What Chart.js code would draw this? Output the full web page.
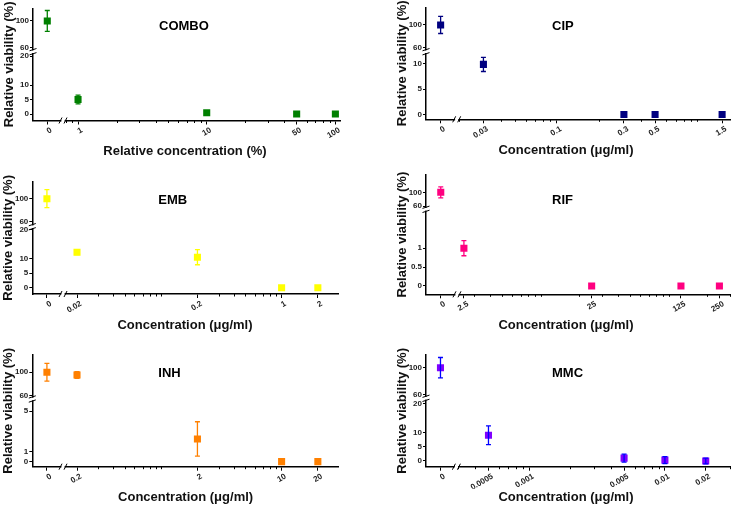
<!DOCTYPE html>
<html>
<head>
<meta charset="utf-8">
<script src="https://cdn.jsdelivr.net/npm/chart.js@4"></script>
<style>
  html, body { margin: 0; padding: 0; background: #fff; }
  body { position: relative; width: 735px; height: 506px; overflow: hidden; }
  canvas { position: absolute; }
</style>
</head>
<body>
<script>
// ── Data ───────────────────────────────────────────────────
// concentration 0 sits on its own short axis segment left of the break
const comboConc = [0, 1, 10, 50, 100];
const comboViab = [100, 5.0, 0.45, 0, 0];
const comboErr  = [15.7, 1.5, 0, 0, 0];
const comboXTicks = [1, 10, 50, 100];
const comboYTicks = [0, 5, 10, 20];

const cipConc = [0, 0.03, 0.3, 0.5, 1.5];
const cipViab = [100, 9.9, 0, 0, 0];
const cipErr  = [15, 1.4, 0, 0, 0];
const cipXTicks = [0.03, 0.1, 0.3, 0.5, 1.5];
const cipYTicks = [0, 5, 10];

const embConc = [0, 0.02, 0.2, 1, 2];
const embViab = [100, 12.2, 10.5, 0, 0];
const embErr  = [15.5, 0.8, 2.6, 0, 0];
const embXTicks = [0.02, 0.2, 1, 2];
const embYTicks = [0, 5, 10, 20];

const rifConc = [0, 2.5, 25, 125, 250];
const rifViab = [100, 1.0, 0, 0, 0];
const rifErr  = [16, 0.2, 0, 0, 0];
const rifXTicks = [2.5, 25, 125, 250];
const rifYTicks = [0, 0.5, 1];

const inhConc = [0, 0.2, 2, 10, 20];
const inhViab = [100, 95.3, 2.25, 0, 0];
const inhErr  = [15.3, 6, 1.7, 0, 0];
const inhXTicks = [0.2, 2, 10, 20];
const inhYTicks = [0, 1, 5];

const mmcConc = [0, 0.0005, 0.005, 0.01, 0.02];
const mmcViab = [100, 9.0, 1.0, 0.3, 0];
const mmcErr  = [15, 3.3, 1.4, 1.2, 1.0];
const mmcXTicks = [0.0005, 0.001, 0.005, 0.01, 0.02];
const mmcYTicks = [0, 5, 10, 20];

const yHighTicks = [60, 100];

// ── Layout of the six panels (page pixels) ─────────────────
const FONT = '"Liberation Sans", Arial, sans-serif';
const Y_W = 30;   // reserved width of the y axis
const X_H = 22;   // reserved height of the x axis

const panels = [
  { name: 'COMBO', xTitle: 'Relative concentration (%)', color: '#008000', errColor: '#008000',
    conc: comboConc, viab: comboViab, err: comboErr, xTicks: comboXTicks, yTicks: comboYTicks,
    box: { left: 0, top: 0, width: 367, height: 165 },
    plot: { left: 33, top: 8.3, right: 340, bottom: 120.5, xBreak: 63, yBreak: 51.7 },
    xLog: [0.764, 108.6], yLow: [-2.24, 21.5], yHigh: [54, 119], titleY: 26.7, xTitleX: 185 },
  { name: 'CIP', xTitle: 'Concentration (\u03bcg/ml)', color: '#000080', errColor: '#000080',
    conc: cipConc, viab: cipViab, err: cipErr, xTicks: cipXTicks, yTicks: cipYTicks,
    box: { left: 367, top: 0, width: 368, height: 165 },
    plot: { left: 426, top: 7.3, right: 733, bottom: 119.3, xBreak: 457, yBreak: 51.7 },
    xLog: [0.01936, 1.707], yLow: [-0.93, 12.4], yHigh: [53, 131], titleY: 26.7, xTitleX: 566 },
  { name: 'EMB', xTitle: 'Concentration (\u03bcg/ml)', color: '#ffff00', errColor: '#ffff00',
    conc: embConc, viab: embViab, err: embErr, xTicks: embXTicks, yTicks: embYTicks,
    box: { left: 0, top: 165, width: 367, height: 171 },
    plot: { left: 32.3, top: 181.7, right: 338, bottom: 294, xBreak: 63, yBreak: 226.7 },
    xLog: [0.0153, 2.94], yLow: [-2.17, 21.0], yHigh: [51.9, 129.2], titleY: 200.7, xTitleX: 185 },
  { name: 'RIF', xTitle: 'Concentration (\u03bcg/ml)', color: '#ff0080', errColor: '#ff0080',
    conc: rifConc, viab: rifViab, err: rifErr, xTicks: rifXTicks, yTicks: rifYTicks,
    box: { left: 367, top: 165, width: 368, height: 171 },
    plot: { left: 426, top: 175, right: 733, bottom: 294.3, xBreak: 457.3, yBreak: 209.3 },
    xLog: [2.207, 302.6], yLow: [-0.22, 2.03], yHigh: [50.4, 150.5], titleY: 200.7, xTitleX: 566 },
  { name: 'INH', xTitle: 'Concentration (\u03bcg/ml)', color: '#ff8000', errColor: '#ff8000',
    conc: inhConc, viab: inhViab, err: inhErr, xTicks: inhXTicks, yTicks: inhYTicks,
    box: { left: 0, top: 336, width: 367, height: 170 },
    plot: { left: 32.3, top: 355, right: 338, bottom: 466.7, xBreak: 63, yBreak: 399 },
    xLog: [0.153, 29.4], yLow: [-0.5, 6.2], yHigh: [53.6, 130], titleY: 373.3, xTitleX: 185.6 },
  { name: 'MMC', xTitle: 'Concentration (\u03bcg/ml)', color: '#8000ff', errColor: '#0000ff',
    conc: mmcConc, viab: mmcViab, err: mmcErr, xTicks: mmcXTicks, yTicks: mmcYTicks,
    box: { left: 367, top: 336, width: 368, height: 170 },
    plot: { left: 426, top: 355, right: 733, bottom: 466.7, xBreak: 456.7, yBreak: 398.3 },
    xLog: [0.00029, 0.0302], yLow: [-2.0, 21.95], yHigh: [55, 118.7], titleY: 373.3, xTitleX: 566 },
];

// ── Helpers ────────────────────────────────────────────────
function buildDatasets(p) {
  const sets = {};
  p.conc.forEach((c, i) => {
    const xa = c === 0 ? 'x0' : 'xl';
    const ya = p.viab[i] >= 50 ? 'yT' : 'yB';
    const key = xa + ya;
    if (!sets[key]) {
      sets[key] = {
        data: [], xAxisID: xa, yAxisID: ya,
        pointStyle: 'rect', pointRadius: 5, pointHoverRadius: 5,
        backgroundColor: p.color, borderColor: p.color, borderWidth: 0,
        showLine: false,
      };
    }
    sets[key].data.push({ x: c, y: p.viab[i], e: p.err[i] });
  });
  return Object.values(sets);
}

const tickFont = { family: FONT, size: 8, weight: 'bold' };

function yAxis(range, ticks, weight) {
  return {
    type: 'linear', axis: 'y', position: 'left', stack: 'y', stackWeight: weight,
    min: range[0], max: range[1], bounds: 'data',
    afterBuildTicks: s => { s.ticks = ticks.map(v => ({ value: v })); },
    afterFit: s => { s.width = Y_W; s.paddingTop = 0; s.paddingBottom = 0; },
    grid: { drawOnChartArea: false, tickLength: 3, tickColor: '#000', tickWidth: 1 },
    border: { color: '#000', width: 1.5 },
    ticks: { font: tickFont, color: '#222', padding: 1, autoSkip: false, callback: v => String(v) },
  };
}

function xAxisCommon(weight) {
  return {
    axis: 'x', position: 'bottom', stack: 'x', stackWeight: weight, bounds: 'data',
    afterFit: s => { s.height = X_H; s.paddingLeft = 0; s.paddingRight = 0; },
    grid: { drawOnChartArea: false, tickLength: 4, tickColor: '#000', tickWidth: 1 },
    border: { color: '#000', width: 1.5 },
    ticks: { font: tickFont, color: '#222', padding: 1, autoSkip: false,
             minRotation: 30, maxRotation: 30, labelOffset: 4, callback: v => String(v) },
  };
}

// ── Plugins: error bars, minor ticks, axis breaks, titles ──
function makePlugins(p) {
  const errorBars = {
    id: 'errorBars',
    afterDatasetsDraw(chart) {
      const ctx = chart.ctx;
      ctx.save();
      ctx.strokeStyle = p.errColor;
      ctx.lineWidth = 1.3;
      chart.data.datasets.forEach(ds => {
        const xs = chart.scales[ds.xAxisID], ys = chart.scales[ds.yAxisID];
        ds.data.forEach(pt => {
          if (!pt.e) return;
          const x = xs.getPixelForValue(pt.x);
          const top = ys.getPixelForValue(pt.y + pt.e);
          const bot = ys.getPixelForValue(pt.y - pt.e);
          ctx.beginPath();
          ctx.moveTo(x, top); ctx.lineTo(x, bot);
          ctx.moveTo(x - 2.5, top); ctx.lineTo(x + 2.5, top);
          ctx.moveTo(x - 2.5, bot); ctx.lineTo(x + 2.5, bot);
          ctx.stroke();
        });
      });
      ctx.restore();
    }
  };

  const decor = {
    id: 'decor',
    afterDraw(chart) {
      const ctx = chart.ctx;
      const ox = p.box.left, oy = p.box.top;
      const xl = chart.scales.xl, x0 = chart.scales.x0, yB = chart.scales.yB;
      const area = chart.chartArea;
      ctx.save();

      // minor ticks on the log segment
      ctx.strokeStyle = '#000';
      ctx.lineWidth = 1;
      const d0 = Math.floor(Math.log10(xl.min)), d1 = Math.ceil(Math.log10(xl.max));
      ctx.beginPath();
      for (let d = d0; d <= d1; d++) {
        for (let k = 1; k <= 9; k++) {
          const v = k * Math.pow(10, d);
          if (v < xl.min || v > xl.max) continue;
          if (p.xTicks.some(t => Math.abs(t - v) / v < 1e-6)) continue;
          const px = Math.round(xl.getPixelForValue(v)) + 0.5;
          ctx.moveTo(px, area.bottom);
          ctx.lineTo(px, area.bottom + 2.5);
        }
      }
      ctx.stroke();

      // y axis break
      const yb = yB.top, L = area.left;
      ctx.fillStyle = '#fff';
      ctx.fillRect(L - 4, yb - 1.3, 8, 2.6);
      ctx.beginPath();
      ctx.moveTo(L - 3.5, yb + 3.2); ctx.lineTo(L + 3.5, yb + 0.9);
      ctx.moveTo(L - 3.5, yb - 0.9); ctx.lineTo(L + 3.5, yb - 3.2);
      ctx.stroke();

      // x axis break
      const xb = x0.right, B = area.bottom;
      ctx.fillStyle = '#fff';
      ctx.fillRect(xb - 1.6, B - 4, 3.2, 8);
      ctx.beginPath();
      ctx.moveTo(xb - 4, B + 3); ctx.lineTo(xb - 1, B - 3);
      ctx.moveTo(xb + 1, B + 3); ctx.lineTo(xb + 4, B - 3);
      ctx.stroke();

      // panel name
      ctx.fillStyle = '#000';
      ctx.font = `bold 13px ${FONT}`;
      ctx.textAlign = 'left';
      ctx.textBaseline = 'middle';
      ctx.fillText(p.name, p.plot.left + 126 - ox, p.titleY - oy);

      // axis titles
      ctx.font = `bold 13px ${FONT}`;
      ctx.textAlign = 'center';
      ctx.fillStyle = '#111';
      ctx.fillText(p.xTitle, p.xTitleX - ox, p.plot.bottom + 31 - oy);
      ctx.translate(p.plot.left - 24 - ox, (area.top + area.bottom) / 2);
      ctx.rotate(-Math.PI / 2);
      ctx.fillText('Relative viability (%)', 0, 0);
      ctx.restore();
    }
  };
  return [errorBars, decor];
}

// ── One chart per panel ────────────────────────────────────
function renderPanel(p) {
  const canvas = document.createElement('canvas');
  canvas.width = p.box.width;
  canvas.height = p.box.height;
  canvas.style.left = p.box.left + 'px';
  canvas.style.top = p.box.top + 'px';
  canvas.style.width = p.box.width + 'px';
  canvas.style.height = p.box.height + 'px';
  document.body.appendChild(canvas);

  const pl = p.plot;
  const padding = {
    left: pl.left - p.box.left - Y_W,
    top: pl.top - p.box.top,
    right: p.box.left + p.box.width - pl.right,
    bottom: p.box.top + p.box.height - pl.bottom - X_H,
  };

  const x0 = Object.assign(xAxisCommon(pl.xBreak - pl.left), {
    type: 'linear', min: -1, max: 1.1,
    afterBuildTicks: s => { s.ticks = [{ value: 0 }]; },
  });
  const xl = Object.assign(xAxisCommon(pl.right - pl.xBreak), {
    type: 'logarithmic', min: p.xLog[0], max: p.xLog[1],
    afterBuildTicks: s => { s.ticks = p.xTicks.map(v => ({ value: v })); },
  });

  new Chart(canvas.getContext('2d'), {
    type: 'scatter',
    data: { datasets: buildDatasets(p) },
    options: {
      responsive: false,
      animation: false,
      devicePixelRatio: 1,
      layout: { padding },
      plugins: { legend: { display: false }, tooltip: { enabled: false } },
      scales: {
        x0, xl,
        yB: yAxis(p.yLow, p.yTicks, pl.bottom - pl.yBreak),
        yT: yAxis(p.yHigh, yHighTicks, pl.yBreak - pl.top),
      },
    },
    plugins: makePlugins(p),
  });
}

panels.forEach(renderPanel);
</script>
</body>
</html>
